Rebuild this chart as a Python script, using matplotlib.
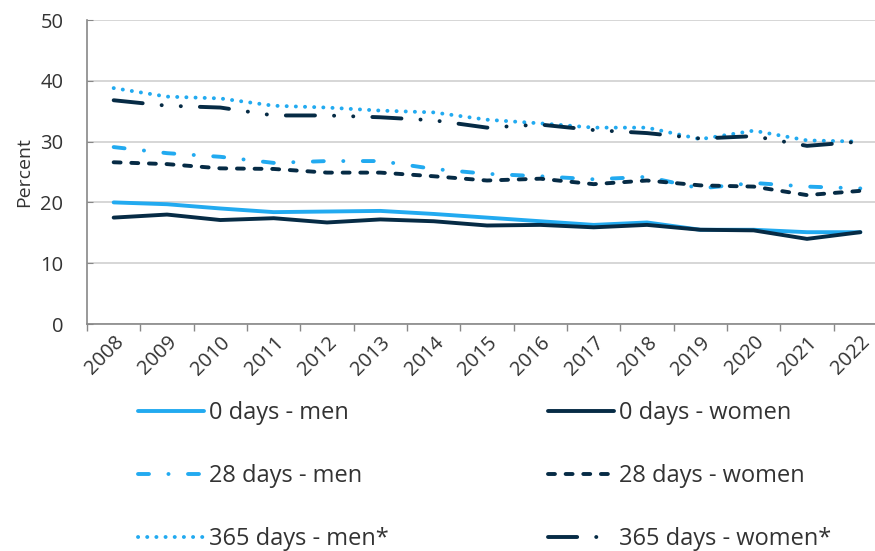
import matplotlib
matplotlib.use("Agg")
import matplotlib.pyplot as plt

plt.rcParams['font.family'] = ['Open Sans', 'DejaVu Sans']
plt.rcParams['lines.scale_dashes'] = False

years = ["2008", "2009", "2010", "2011", "2012", "2013", "2014", "2015",
         "2016", "2017", "2018", "2019", "2020", "2021", "2022"]

days0_men = [20.0, 19.7, 19.0, 18.4, 18.5, 18.6, 18.1, 17.5, 16.9, 16.3, 16.7, 15.5, 15.5, 15.1, 15.1]
days0_women = [17.5, 18.0, 17.1, 17.4, 16.7, 17.2, 16.9, 16.2, 16.3, 15.9, 16.3, 15.5, 15.4, 14.0, 15.1]
days28_men = [29.1, 28.1, 27.5, 26.5, 26.8, 26.8, 25.5, 24.7, 24.3, 23.8, 24.2, 22.3, 23.2, 22.6, 22.3]
days28_women = [26.6, 26.3, 25.6, 25.5, 24.9, 24.9, 24.3, 23.6, 23.9, 23.0, 23.6, 22.8, 22.6, 21.2, 21.9]
days365_men = [38.8, 37.4, 37.1, 35.9, 35.6, 35.1, 34.8, 33.6, 33.0, 32.3, 32.3, 30.4, 31.8, 30.2, 30.0]
days365_women = [36.8, 35.9, 35.6, 34.3, 34.3, 34.0, 33.5, 32.3, 32.8, 31.9, 31.4, 30.5, 30.9, 29.3, 30.0]

light = "#22aaf0"
dark = "#062b45"
txt = "#333333"

fig = plt.figure(figsize=(8.75, 5.51), dpi=100)
ax = fig.add_axes([87 / 875, 227 / 551, 800 / 875, 304 / 551])

x = list(range(len(years)))
lw = 2.8
l1, = ax.plot(x, days0_men, color=light, lw=lw, label="0 days - men",
              solid_capstyle='round')
l2, = ax.plot(x, days0_women, color=dark, lw=lw, label="0 days - women",
              solid_capstyle='round')
l3, = ax.plot(x, days28_men, color=light, lw=lw, label="28 days - men",
              dashes=(7.9, 14.0, 0.1, 14.0), dash_capstyle='round')
l4, = ax.plot(x, days28_women, color=dark, lw=lw, label="28 days - women",
              dashes=(5.0, 7.7), dash_capstyle='round')
l5, = ax.plot(x, days365_men, color=light, lw=lw, label="365 days - men*",
              dashes=(0.1, 6.5), dash_capstyle='round')
l6, = ax.plot(x, days365_women, color=dark, lw=lw, label="365 days - women*",
              dashes=(21.0, 13.7, 0.1, 13.7, 0.1, 13.7), dash_capstyle='round')

ax.set_xlim(-0.5, 14.5)
ax.set_ylim(0, 50)
ax.set_yticks([0, 10, 20, 30, 40, 50])
ax.yaxis.grid(True, color="#d0d0d0", lw=1.2)
ax.set_axisbelow(True)

ax.set_xticks([i - 0.5 for i in range(len(years) + 1)])
ax.set_xticklabels([])
ax.set_xticks(x, minor=True)
ax.set_xticklabels(years, minor=True, rotation=45, ha='right',
                   rotation_mode='anchor', fontsize=14.5, color=txt)
ax.tick_params(axis='x', which='major', length=5, color="#888888", width=1)
ax.tick_params(axis='x', which='minor', length=0, pad=6)
ax.tick_params(axis='y', direction='in', length=4, color="#888888",
               labelsize=14.5, labelcolor=txt, pad=17)

for s in ['top', 'right']:
    ax.spines[s].set_visible(False)
for s in ['left', 'bottom']:
    ax.spines[s].set_color("#888888")
    ax.spines[s].set_linewidth(1.2)

ax.set_ylabel("Percent", fontsize=14, color=txt, labelpad=5)

leg_kw = dict(frameon=False, fontsize=17, handlelength=2.8, handletextpad=0.2,
              labelspacing=1.65, borderpad=0, borderaxespad=0, loc='upper left',
              labelcolor=txt)
fig.legend(handles=[l1, l3, l5], bbox_to_anchor=(138 / 875, 1 - 401 / 551), **leg_kw)
fig.legend(handles=[l2, l4, l6], bbox_to_anchor=(548 / 875, 1 - 401 / 551), **leg_kw)

fig.savefig("out.png", dpi=100)
